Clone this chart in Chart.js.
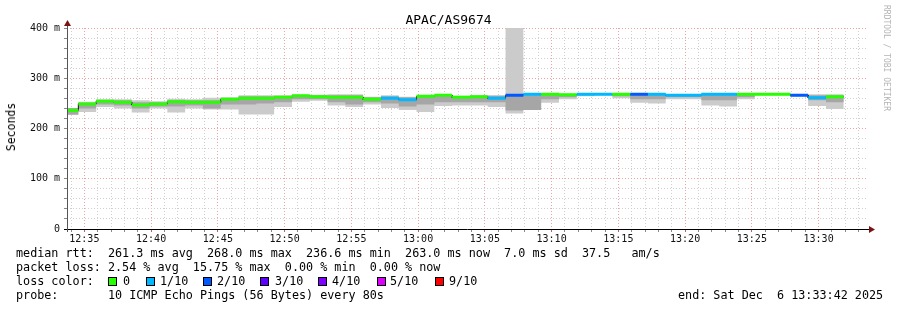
<!DOCTYPE html>
<html><head><meta charset="utf-8">
<script src="https://cdn.jsdelivr.net/npm/chart.js@4.4.1/dist/chart.umd.min.js"></script>
<style>
html,body{margin:0;padding:0;background:#fff;}
#wrap{position:relative;width:897px;height:310px;overflow:hidden;font-family:"DejaVu Sans Mono",monospace;color:#000;}
canvas{position:absolute;left:0;top:0;}
.t{position:absolute;white-space:pre;}
.lg{font-size:11.75px;line-height:14px;}
.sq{position:absolute;width:7px;height:7px;border:1px solid #000;top:277px;}
</style></head><body>
<div id="wrap">
<canvas id="c" width="897" height="310"></canvas>
<div class="t" style="left:0;width:897px;text-align:center;top:13px;font-size:13px;line-height:13px;">APAC/AS9674</div>
<div class="t" style="left:11px;top:127px;font-size:11.5px;line-height:12px;transform:translate(-50%,-50%) rotate(-90deg);">Seconds</div>
<div class="t" style="left:882px;top:5px;font-size:8px;line-height:8px;color:#b4b4b4;writing-mode:vertical-rl;">RRDTOOL / TOBI OETIKER</div>
<div class="t lg" style="left:16px;top:246px;">median rtt:  261.3 ms avg  268.0 ms max  236.6 ms min  263.0 ms now  7.0 ms sd  37.5   am/s</div>
<div class="t lg" style="left:16px;top:260px;">packet loss: 2.54 % avg  15.75 % max  0.00 % min  0.00 % now</div>
<div class="t lg" style="left:16px;top:274px;">loss color:</div>
<div id="lossLegend"></div>
<div class="t lg" style="left:16px;top:288px;">probe:       10 ICMP Echo Pings (56 Bytes) every 80s</div>
<div class="t lg" style="left:678px;top:288px;">end: Sat Dec  6 13:33:42 2025</div>
</div>
<script>
// ---- data ----
const graphStart = "12:33:42";          // left edge of graph
const graphSpan = 3600;                 // seconds shown
const firstStep = 51;                   // seconds after graphStart of the first full probe step
const probeInterval = 80;               // seconds per probe round
const median   = [236,249,254,252,247,249,253,252,252,258,260,260,
                  262,265,263,262,262,258,260,257,264,266,262,263,260,266,268,268,267,268,268,268,268,268,266,266,268,268,268,268,268,266,261,263];
const lossTenths = [0,0,0,0,0,0,0,0,0,0,0,0,
                  0,0,0,0,0,0,1,1,0,0,0,0,1,2,1,0,0,1,1,0,2,1,1,1,1,1,0,0,0,2,1,0];
const smokeMin = [227,233,243,240,232,240,232,240,238,238,228,228,
                  243,253,255,246,243,248,241,237,233,245,246,246,243,230,237,251,258,264,266,260,251,250,258,258,246,244,258,266,266,264,245,239];
const smokeMax = [241,253,258,258,256,254,259,258,261,262,266,266,
                  266,267,267,268,268,263,266,263,265,266,265,266,266,400,269,269,269,269,270,269,269,269,268,268,268,268,268,270,270,268,268,268];
const innerLo  = [228,240,248,246,240,244,244,246,240,248,248,250,
                  252,258,258,252,248,252,250,244,248,252,252,252,252,236,237,258,262,266,267,264,258,258,262,262,256,256,262,267,267,265,256,252];
const innerHi  = [241,251,256,256,252,252,256,256,256,260,264,264,
                  264,266,266,266,266,262,264,262,264,265,264,265,265,266,266,268,268,268,268,268,268,268,267,267,268,268,268,268,268,268,266,266];
const lossLevels = [0,1,2,3,4,5,9];
const lossLabels = ["0","1/10","2/10","3/10","4/10","5/10","9/10"];
const lossColors = ["#26ff00","#00b8ff","#0059ff","#5e00ff","#7e00ff","#dd00ff","#ff0000"];
const yTickStep = 20;
const yLabelEvery = 100;

// ---- legend squares ----
const sqX = [108,146,203,260,318,377,435];
const lbX = [123,160,217,275,332,390,449];
const lg = document.getElementById('lossLegend');
lossLabels.forEach((l,i)=>{
  const s=document.createElement('div');s.className='sq';s.style.left=sqX[i]+'px';s.style.background=lossColors[i];lg.appendChild(s);
  const t=document.createElement('div');t.className='t lg';t.style.left=lbX[i]+'px';t.style.top='274px';t.textContent=lossLabels[i];lg.appendChild(t);
});

// ---- helpers ----
const [bh,bm,bs] = graphStart.split(':').map(Number);
const baseSec = bh*3600+bm*60+bs;
const stepS = i => i===0 ? 0 : firstStep+(i-1)*probeInterval;
const stepE = i => firstStep+i*probeInterval;
function pairs(arr){const p=[];arr.forEach((v,i)=>{p.push({x:stepS(i),y:v},{x:stepE(i),y:v});});return p;}
function colorPts(level){const p=[];median.forEach((v,i)=>{if(lossTenths[i]===level){p.push({x:stepS(i),y:v},{x:stepE(i),y:v},{x:stepE(i),y:null});}});return p;}
const xTicks=[];for(let t=60-(baseSec%60);t<graphSpan;t+=60)xTicks.push(t);
const isMajorX = v => ((baseSec+v)%300)===0;
const clock = v => {const t=baseSec+v;const h=Math.floor(t/3600),m=Math.floor((t%3600)/60);return String(h).padStart(2,'0')+':'+String(m).padStart(2,'0');};

const datasets=[
  {data:pairs(smokeMax),borderColor:'transparent',borderWidth:0,fill:false,order:4},
  {data:pairs(smokeMin),borderColor:'transparent',borderWidth:0,fill:0,backgroundColor:'#cbcbcb',order:4},
  {data:pairs(innerHi),borderColor:'transparent',borderWidth:0,fill:false,order:3},
  {data:pairs(innerLo),borderColor:'transparent',borderWidth:0,fill:2,backgroundColor:'#a6a6a6',order:3},
  {data:pairs(median),borderColor:'#111',borderWidth:1,fill:false,order:2},
];
lossLevels.forEach((lv,i)=>{datasets.push({data:colorPts(lv),borderColor:lossColors[i],borderWidth:3,fill:false,spanGaps:false,order:1,borderCapStyle:'butt'});});

const axesPlugin={id:'axes',afterDatasetsDraw(chart){
  const c=chart.ctx,a=chart.chartArea;c.save();
  c.lineWidth=1;c.strokeStyle='#000';
  c.beginPath();c.moveTo(a.left-3,a.bottom+0.5);c.lineTo(a.right+3,a.bottom+0.5);c.stroke();
  c.strokeStyle='#555';
  c.beginPath();c.moveTo(a.left+0.5,a.bottom+3);c.lineTo(a.left+0.5,a.top-3);c.stroke();
  c.fillStyle='#7a1414';
  c.beginPath();c.moveTo(a.right+1,a.bottom-3);c.lineTo(a.right+7,a.bottom+0.5);c.lineTo(a.right+1,a.bottom+4);c.closePath();c.fill();
  c.beginPath();c.moveTo(a.left-3,a.top-2);c.lineTo(a.left+0.5,a.top-8);c.lineTo(a.left+4,a.top-2);c.closePath();c.fill();
  c.restore();}};

new Chart(document.getElementById('c'),{
  type:'line',
  data:{datasets},
  plugins:[axesPlugin],
  options:{
    responsive:false,animation:false,devicePixelRatio:1,
    layout:{padding:{left:0,right:29,top:28,bottom:0}},
    plugins:{legend:{display:false},tooltip:{enabled:false},title:{display:false}},
    elements:{point:{radius:0,hoverRadius:0},line:{tension:0}},
    scales:{
      x:{type:'linear',min:0,max:graphSpan,
        afterBuildTicks:s=>{s.ticks=xTicks.map(v=>({value:v}));},
        afterFit:s=>{s.height=81;},
        grid:{color:c=>isMajorX(c.tick.value)?'#eea2a2':'#cfcfcf',lineWidth:1,drawTicks:true,tickLength:3,tickColor:c=>isMajorX(c.tick.value)?'#c06060':'#888'},
        border:{display:false,dash:[1,2]},
        ticks:{autoSkip:false,maxRotation:0,minRotation:0,padding:1,color:'#111',font:{family:'DejaVu Sans Mono',size:10},
          callback:v=>isMajorX(v)?clock(v):''}
      },
      y:{type:'linear',min:0,max:400,
        afterFit:s=>{s.width=67;},
        grid:{color:c=>(c.tick.value%yLabelEvery===0)?'#eea2a2':'#cfcfcf',lineWidth:1,drawTicks:true,tickLength:3,tickColor:'#888'},
        border:{display:false,dash:[1,2]},
        ticks:{stepSize:yTickStep,autoSkip:false,padding:4,color:'#111',font:{family:'DejaVu Sans Mono',size:10},
          callback:v=>v%yLabelEvery===0?(v===0?'0':v+' m'):''}
      }
    }
  }
});
</script>
</body></html>
